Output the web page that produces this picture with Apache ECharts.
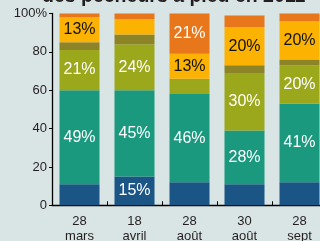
<!DOCTYPE html>
<html><head><meta charset="utf-8">
<script src="https://cdn.jsdelivr.net/npm/echarts@6/dist/echarts.min.js"></script>
<style>html,body{margin:0;padding:0;background:#d9e4e5;}#c{width:320px;height:241px;}</style>
</head><body><div id="c"></div>
<script>
const titleText = 'des pêcheurs à pied en 2011';
const categories = ['28\nmars', '18\navril', '28\naoût', '30\naoût', '28\nsept'];
const yTickLabels = ['0', '20', '40', '60', '80', '100%'];
const segBlue   = [11, 15, 12, 11, 12];
const segTeal   = [49, 45, 46, 28, 41];
const segGreen  = [21, 24, 8, 30, 20];
const segOlive  = [4, 5, 0, 4, 3];
const segYellow = [13, 8, 13, 20, 20];
const segOrange = [2, 3, 21, 6, 4];

const seriesDefs = [
  {name: 'blue', data: segBlue, color: '#1a5585', text: '#ffffff'},
  {name: 'teal', data: segTeal, color: '#1a997e', text: '#ffffff'},
  {name: 'green', data: segGreen, color: '#9ba81b', text: '#ffffff'},
  {name: 'olive', data: segOlive, color: '#8d8327', text: '#ffffff'},
  {name: 'yellow', data: segYellow, color: '#fcb200', text: '#111111'},
  {name: 'orange', data: segOrange, color: '#e8761b', text: '#ffffff'}
];

const chart = echarts.init(document.getElementById('c'), null, {renderer: 'canvas'});
chart.setOption({
  backgroundColor: '#d9e4e5',
  animation: false,
  graphic: [{
    type: 'text', left: 42, top: -13,
    style: {text: titleText, font: 'bold 19.5px "Liberation Sans", sans-serif', fill: '#231f20'}
  }],
  grid: {left: 52, top: 13.5, width: 275, height: 191.8, containLabel: false, outerBoundsMode: 'none'},
  xAxis: {
    type: 'category', data: categories,
    axisLine: {lineStyle: {color: '#000', width: 1.3}},
    axisTick: {show: true, inside: true, length: 4, lineStyle: {color: '#000'}},
    axisLabel: {color: '#231f20', fontSize: 13, lineHeight: 15, margin: 9, fontFamily: 'Liberation Sans'}
  },
  yAxis: {
    type: 'value', min: 0, max: 100, interval: 20,
    splitLine: {show: false},
    axisLine: {show: true, lineStyle: {color: '#000', width: 1.3}},
    axisTick: {show: true, length: 3, lineStyle: {color: '#000'}},
    axisLabel: {color: '#231f20', fontSize: 13, margin: 5, fontFamily: 'Liberation Sans',
      formatter: v => yTickLabels[Math.round(v / 20)]}
  },
  series: seriesDefs.map(d => ({
    type: 'bar', name: d.name, stack: 'all', data: d.data, barWidth: 40,
    itemStyle: {color: d.color},
    label: {show: true, position: 'inside', color: d.text, fontSize: 16,
      fontFamily: 'Liberation Sans',
      formatter: p => p.value >= 13 ? p.value + '%' : ''}
  }))
});
</script></body></html>
